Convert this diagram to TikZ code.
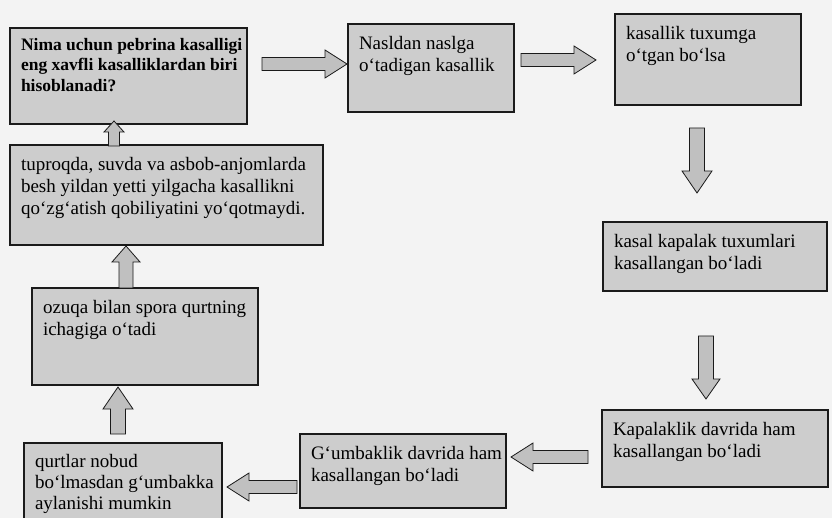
\documentclass[tikz,border=0pt]{standalone}
\usepackage{fontspec}
\setmainfont{Liberation Serif}
\usetikzlibrary{calc}
\definecolor{pagebg}{HTML}{F3F3F3}
\definecolor{boxfill}{HTML}{CDCDCD}
\definecolor{arrowfill}{HTML}{C0C0C0}
\definecolor{inkcol}{HTML}{1A1A1A}
\newcommand{\boxtext}[3]{\parbox[t][\dimexpr#2pt-20pt\relax][t]{\dimexpr#1pt-22pt\relax}{\begin{tabular}[t]{@{}l@{}}#3\end{tabular}}}
\newcommand{\boldboxtext}[3]{\parbox[t][\dimexpr#2pt-16pt\relax][t]{\dimexpr#1pt-22pt\relax}{\begin{tabular}[t]{@{}l@{}}#3\end{tabular}}}
\tikzset{
  ashaft/.store in=\bas, ahead/.store in=\bah, alen/.store in=\bal,
  ashaft=6.5, ahead=14, alen=22,
  box/.style={draw=inkcol, line width=2.8pt, fill=boxfill, anchor=north west,
    inner xsep=11pt, inner ysep=10pt, outer sep=0pt,
    font=\fontsize{19pt}{22pt}\selectfont},
  boldbox/.style={box, inner ysep=8pt, font=\fontsize{17.5pt}{20.5pt}\selectfont\bfseries},
  tightbox/.style={box, font=\fontsize{19pt}{21pt}\selectfont},
  blockarrow/.style={draw=inkcol, line width=0.8pt, fill=arrowfill, line join=miter,
    to path={let \p1=(\tikztostart), \p2=(\tikztotarget),
      \n1={atan2(\y2-\y1,\x2-\x1)}, \n2={veclen(\x2-\x1,\y2-\y1)},
      \n3={cos(\n1)}, \n4={sin(\n1)}, \n5={\n2-\bal} in
      ({\x1-\bas*\n4},{\y1+\bas*\n3})
      -- ({\x1+\n5*\n3-\bas*\n4},{\y1+\n5*\n4+\bas*\n3})
      -- ({\x1+\n5*\n3-\bah*\n4},{\y1+\n5*\n4+\bah*\n3})
      -- (\p2)
      -- ({\x1+\n5*\n3+\bah*\n4},{\y1+\n5*\n4-\bah*\n3})
      -- ({\x1+\n5*\n3+\bas*\n4},{\y1+\n5*\n4-\bas*\n3})
      -- ({\x1+\bas*\n4},{\y1-\bas*\n3}) -- cycle}},
}
\begin{document}
\begin{tikzpicture}[x=1pt,y=-1pt]
\clip (0,0) rectangle (832,518);
\fill[pagebg] (0,0) rectangle (832,518);

% boxes
\node[boldbox] (A) at (10,28) {\boldboxtext{237}{96}{Nima uchun pebrina kasalligi\\eng xavfli kasalliklardan biri\\hisoblanadi?}};
\node[box] (B) at (348,24) {\boxtext{166}{88}{Nasldan naslga\\o‘tadigan kasallik}};
\node[box] (C) at (615,14) {\boxtext{186}{91}{kasallik tuxumga\\o‘tgan bo‘lsa}};
\node[box] (D) at (603,222) {\boxtext{224}{69}{kasal kapalak tuxumlari\\kasallangan bo‘ladi}};
\node[box] (E) at (602,410) {\boxtext{226}{77}{Kapalaklik davrida ham\\kasallangan bo‘ladi}};
\node[box] (F) at (300,434) {\boxtext{206}{74}{G‘umbaklik davrida ham\\kasallangan bo‘ladi}};
\node[tightbox] (G) at (24,443) {\boxtext{198}{86}{qurtlar nobud\\bo‘lmasdan g‘umbakka\\aylanishi mumkin}};
\node[box] (H) at (32,288) {\boxtext{226}{97}{ozuqa bilan spora qurtning\\ichagiga o‘tadi}};
\node[box] (I) at (10,145) {\boxtext{313}{100}{tuproqda, suvda va asbob-anjomlarda\\besh yildan yetti yilgacha kasallikni\\qo‘zg‘atish qobiliyatini yo‘qotmaydi.}};

% arrow end points
\coordinate (ab1) at (262,64);  \coordinate (ab2) at (347,64);
\coordinate (bc1) at (521,60);  \coordinate (bc2) at (596,60);
\coordinate (cd1) at (697,128); \coordinate (cd2) at (697,193);
\coordinate (de1) at (706,336); \coordinate (de2) at (706,399);
\coordinate (ef1) at (588,457); \coordinate (ef2) at (511,457);
\coordinate (fg1) at (297,487); \coordinate (fg2) at (227,487);
\coordinate (gh1) at (118,434); \coordinate (gh2) at (118,387);
\coordinate (hi1) at (126,288); \coordinate (hi2) at (126,246);
\coordinate (ia1) at (114,146); \coordinate (ia2) at (114,121);

\draw[blockarrow] (ab1) to (ab2);
\draw[blockarrow] (bc1) to (bc2);
\draw[blockarrow, ashaft=7.5, ahead=15, alen=22] (cd1) to (cd2);
\draw[blockarrow, ashaft=7.5, ahead=14, alen=20] (de1) to (de2);
\draw[blockarrow, ashaft=6.5, ahead=14, alen=22] (ef1) to (ef2);
\draw[blockarrow, ashaft=6.5, ahead=14, alen=22] (fg1) to (fg2);
\draw[blockarrow, ashaft=7.5, ahead=15, alen=22] (gh1) to (gh2);
\draw[blockarrow, ashaft=7, ahead=14, alen=16] (hi1) to (hi2);
\draw[blockarrow, ashaft=5.5, ahead=10, alen=11] (ia1) to (ia2);
\end{tikzpicture}
\end{document}
